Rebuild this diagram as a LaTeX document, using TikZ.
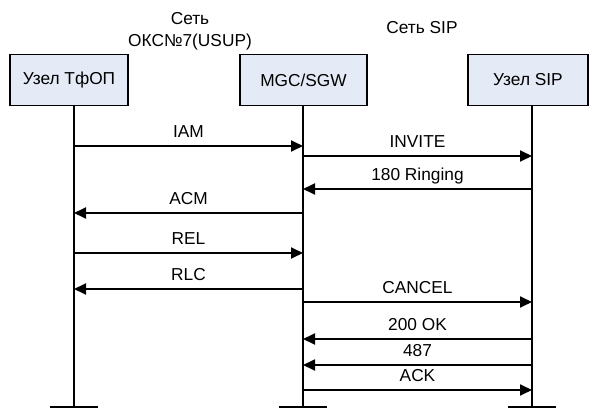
\documentclass[tikz,border=0pt]{standalone}
\usepackage{fontspec}
\setmainfont{Liberation Sans}
\usepackage{xcolor}
\usepackage{tikz}
\usetikzlibrary{arrows.meta}
\definecolor{seqFill}{HTML}{E4EAF6}
\definecolor{seqInk}{HTML}{000000}
\newcommand{\seqfont}{\fontsize{17.3}{22}\selectfont}
\tikzset{
  entity/.style={
    rectangle,
    draw=seqInk,
    fill=seqFill,
    line width=1.3pt,
    minimum height=51pt,
    inner sep=0pt,
    font=\seqfont
  },
  lifeline/.style={
    line width=2pt,
    draw=seqInk
  },
  footbar/.style={
    line width=2pt,
    draw=seqInk
  },
  msg/.style={
    -{Triangle[length=12pt,width=11pt]},
    line width=1.8pt,
    draw=seqInk
  },
  msglabel/.style={
    above=4pt,
    inner sep=1pt,
    text height=12pt,
    text depth=3pt,
    font=\seqfont
  },
  netlabel/.style={
    align=center,
    inner sep=0pt,
    font=\seqfont
  }
}

\begin{document}
\begin{tikzpicture}[x=1pt,y=-1pt]
  \useasboundingbox (0,0) rectangle (589,409);
  % network headers
  \node[netlabel] (ss7) at (190,31) {Сеть\\ОКС№7(USUP)};
  \node[netlabel] (sipnet) at (422,28) {Сеть SIP};
  % entities
  \node[entity,minimum width=118pt] (pstn) at (69,80) {Узел ТфОП};
  \node[entity,minimum width=127pt] (mgc) at (303.5,80) {MGC/SGW};
  \node[entity,minimum width=120pt] (sip) at (528,80) {Узел SIP};
  \coordinate (pstnEnd) at (74,407);
  \coordinate (mgcEnd) at (303,407);
  \coordinate (sipEnd) at (532,407);
  % lifelines
  \draw[lifeline] (pstnEnd |- pstn.south) -- (pstnEnd);
  \draw[lifeline] (mgcEnd |- mgc.south) -- (mgcEnd);
  \draw[lifeline] (sipEnd |- sip.south) -- (sipEnd);
  \draw[footbar] ([xshift=-24pt]pstnEnd) -- ([xshift=24pt]pstnEnd);
  \draw[footbar] ([xshift=-24pt]mgcEnd) -- ([xshift=24pt]mgcEnd);
  \draw[footbar] ([xshift=-24pt]sipEnd) -- ([xshift=24pt]sipEnd);
  % messages
  \draw[msg] (pstnEnd |- 0,146) -- (mgcEnd |- 0,146) node[midway,msglabel] {IAM};
  \draw[msg] (mgcEnd |- 0,156) -- (sipEnd |- 0,156) node[midway,msglabel] {INVITE};
  \draw[msg] (sipEnd |- 0,189) -- (mgcEnd |- 0,189) node[midway,msglabel] {180 Ringing};
  \draw[msg] (mgcEnd |- 0,213) -- (pstnEnd |- 0,213) node[midway,msglabel] {ACM};
  \draw[msg] (pstnEnd |- 0,253) -- (mgcEnd |- 0,253) node[midway,msglabel] {REL};
  \draw[msg] (mgcEnd |- 0,289) -- (pstnEnd |- 0,289) node[midway,msglabel] {RLC};
  \draw[msg] (mgcEnd |- 0,302) -- (sipEnd |- 0,302) node[midway,msglabel] {CANCEL};
  \draw[msg] (sipEnd |- 0,339) -- (mgcEnd |- 0,339) node[midway,msglabel] {200 OK};
  \draw[msg] (sipEnd |- 0,365) -- (mgcEnd |- 0,365) node[midway,msglabel] {487};
  \draw[msg] (mgcEnd |- 0,390) -- (sipEnd |- 0,390) node[midway,msglabel] {ACK};
\end{tikzpicture}
\end{document}
